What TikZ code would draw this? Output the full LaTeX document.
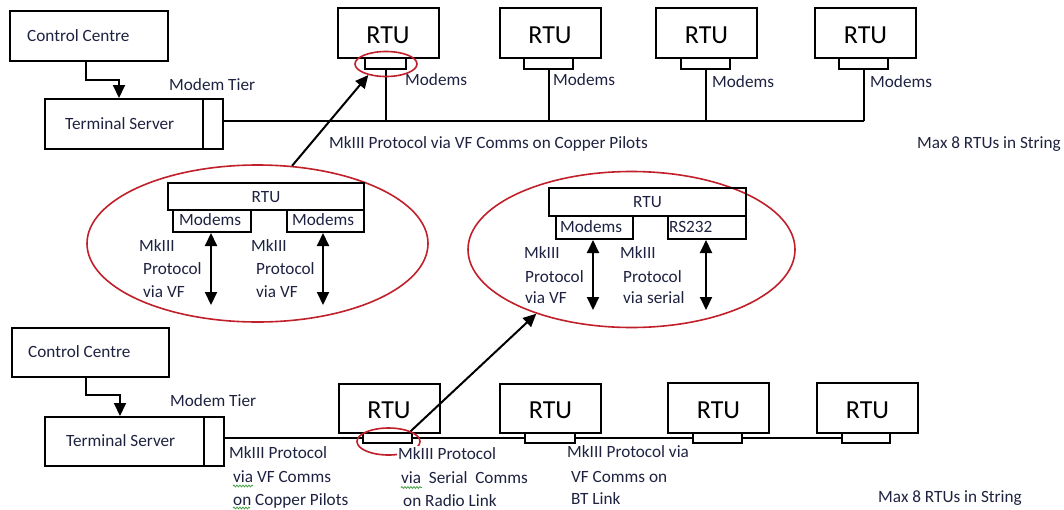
\documentclass[tikz,border=0pt]{standalone}
\usepackage{fontspec}
\setmainfont{Carlito}
\usetikzlibrary{arrows.meta,shapes.geometric,decorations.pathmorphing}
\definecolor{ink}{RGB}{30,34,64}
\definecolor{ringred}{RGB}{192,32,42}
\definecolor{spell}{RGB}{70,160,70}
\begin{document}
\begin{tikzpicture}[x=1pt,y=-1pt,
  wire/.style={draw=black,line width=2pt},
  box/.style={wire,rectangle,inner sep=0pt},
  lbl/.style={inner sep=0pt,anchor=base west,text=ink,font=\fontsize{17.2}{19}\selectfont},
  rtu/.style={box,minimum width=101pt,minimum height=49.5pt,text=black,
    font=\fontsize{26}{28}\selectfont,text height=21pt,text depth=0pt},
  minirtu/.style={box,text=ink,font=\fontsize{17.2}{19}\selectfont,text height=11.5pt,text depth=0pt},
  redell/.style={ellipse,draw=ringred,line width=1.6pt,inner sep=0pt},
  arr/.style={wire,-{Triangle[width=12pt,length=13pt]}},
  darr/.style={wire,{Triangle[width=12pt,length=13pt]}-{Triangle[width=12pt,length=13pt]}},
  squig/.style={draw=spell,line width=0.8pt,decorate,decoration={snake,amplitude=0.9pt,segment length=3pt}}
]
\path[use as bounding box] (0,0) rectangle (1064,509);

% ---------------- upper string: copper pilots ----------------
\node[box,minimum width=158pt,minimum height=50pt] (ccA) at (89,36) {};
\node[lbl] (ccAt) at (27,41) {Control Centre};
\node[box,minimum width=158pt,minimum height=50pt] (tsA) at (124,124) {};
\node[box,minimum width=20pt,minimum height=50pt] (tsAm) at (213,124) {};
\node[lbl] (tsAt) at (65,129) {Terminal Server};
\node[lbl] (tierA) at (169,90) {Modem Tier};
\coordinate (kA) at (119,80);
\draw[arr] ([xshift=-3pt]ccA.south) |- (kA) -- (kA |- tsA.north);

\node[rtu] (rA1) at (388,33) {RTU};
\node[rtu] (rA2) at (550,33) {RTU};
\node[rtu] (rA3) at (706.5,33) {RTU};
\node[rtu] (rA4) at (865.5,33) {RTU};
\node[box,minimum width=41pt,minimum height=11pt] (mA1) at (385.5,63.5) {};
\node[box,minimum width=49pt,minimum height=11pt] (mA2) at (548.5,63.5) {};
\node[box,minimum width=49pt,minimum height=11pt] (mA3) at (705.5,63.5) {};
\node[box,minimum width=49pt,minimum height=11pt] (mA4) at (863.5,63.5) {};
\node[lbl] (mlA1) at (405,85) {Modems};
\node[lbl] (mlA2) at (553,85) {Modems};
\node[lbl] (mlA3) at (712,87) {Modems};
\node[lbl] (mlA4) at (870,87) {Modems};

\coordinate (busA) at (0,121);
\draw[wire] (tsAm.east |- busA) -- (mA4.south |- busA);
\foreach \m in {mA1,mA2,mA3,mA4}
  \draw[wire] (\m.south) -- (\m.south |- busA);

\node[lbl] (protoA) at (329,148) {MkIII Protocol via VF Comms on Copper Pilots};
\node[lbl] (maxA) at (917,148) {Max 8 RTUs in String};

\node[redell,minimum width=62pt,minimum height=25pt] (redA) at (386,64) {};

% ---------------- detail: RTU with two modem ports ----------------
\node[redell,minimum width=341pt,minimum height=157pt] (ellA) at (257.5,243.5) {};
\node[minirtu,minimum width=196pt,minimum height=27pt] (rtuA) at (266,196.5) {RTU};
\node[box,minimum width=78pt,minimum height=22pt] (mdA1) at (212,221) {};
\node[box,minimum width=77pt,minimum height=22pt] (mdA2) at (325.5,221) {};
\node[lbl] (mdA1t) at (179,225) {Modems};
\node[lbl] (mdA2t) at (292,225) {Modems};
\coordinate (eA1) at (211,305);
\coordinate (eA2) at (323,305);
\draw[darr] (mdA1.south -| eA1) -- (eA1);
\draw[darr] (mdA2.south -| eA2) -- (eA2);
\node[lbl] (pA1a) at (139,251) {MkIII};
\node[lbl] (pA1b) at (143,274) {Protocol};
\node[lbl] (pA1c) at (143,297) {via VF};
\node[lbl] (pA2a) at (251,251) {MkIII};
\node[lbl] (pA2b) at (256,274) {Protocol};
\node[lbl] (pA2c) at (256,297) {via VF};

\draw[arr] (ellA.66) -- (redA.212);

% ---------------- detail: RTU with modem and serial port ----------------
\node[redell,minimum width=327pt,minimum height=156pt] (ellB) at (631.5,249.5) {};
\node[minirtu,minimum width=197pt,minimum height=28pt] (rtuB) at (647.5,202) {RTU};
\node[box,minimum width=77pt,minimum height=23pt] (mdB1) at (594.5,227.5) {};
\node[box,minimum width=78pt,minimum height=23pt] (rsB) at (707,227.5) {};
\node[lbl] (mdB1t) at (560,232) {Modems};
\node[lbl] (rsBt) at (669,232) {RS232};
\coordinate (eB1) at (593,310);
\coordinate (eB2) at (706,310);
\draw[darr] (mdB1.south -| eB1) -- (eB1);
\draw[darr] (rsB.south -| eB2) -- (eB2);
\node[lbl] (pB1a) at (524,258) {MkIII};
\node[lbl] (pB1b) at (525,282) {Protocol};
\node[lbl] (pB1c) at (525,303) {via VF};
\node[lbl] (pB2a) at (620,258) {MkIII};
\node[lbl] (pB2b) at (623,282) {Protocol};
\node[lbl] (pB2c) at (623,303) {via serial};

% ---------------- lower string: mixed links ----------------
\node[box,minimum width=157pt,minimum height=49pt] (ccB) at (90.5,352.5) {};
\node[lbl] (ccBt) at (28,357) {Control Centre};
\node[box,minimum width=159pt,minimum height=49pt] (tsB) at (124.5,441.5) {};
\node[box,minimum width=20pt,minimum height=49pt] (tsBm) at (214,441.5) {};
\node[lbl] (tsBt) at (66,446) {Terminal Server};
\node[lbl] (tierB) at (170,406) {Modem Tier};
\coordinate (kB) at (120,395);
\draw[arr] ([xshift=-4.5pt]ccB.south) |- (kB) -- (kB |- tsB.north);

\node[rtu] (rB1) at (389,408.25) {RTU};
\node[rtu] (rB2) at (550.5,408.25) {RTU};
\node[rtu] (rB3) at (718.5,408) {RTU};
\node[rtu] (rB4) at (867.5,408) {RTU};
\node[box,minimum width=49pt,minimum height=10pt] (mB1) at (387.5,438) {};
\node[box,minimum width=50pt,minimum height=10pt] (mB2) at (550,438) {};
\node[box,minimum width=49pt,minimum height=10pt] (mB3) at (717.5,438) {};
\node[box,minimum width=48pt,minimum height=10pt] (mB4) at (866,438) {};

\draw[wire] (tsBm.east |- mB1.west) -- (mB1.west);
\draw[wire] (mB1.east) -- (mB2.west);
\draw[wire] (mB2.east) -- (mB3.west);
\draw[wire] (mB3.east) -- (mB4.west);

\node[redell,minimum width=63pt,minimum height=27pt] (redB) at (388.5,441.5) {};
\draw[arr] (redB.25) -- (ellB.214);

\node[lbl] (lkB1a) at (229,458) {MkIII Protocol};
\node[lbl] (lkB1b) at (233,482) {via VF Comms};
\node[lbl] (lkB1c) at (233,505) {on Copper Pilots};
\node[lbl,fill=white,inner sep=1pt] (lkB2a) at (397,459) {MkIII Protocol};
\node[lbl] (lkB2b) at (401,483) {via\ \ Serial\ \ Comms};
\node[lbl] (lkB2c) at (403,506) {on Radio Link};
\node[lbl] (lkB3a) at (567,457) {MkIII Protocol via};
\node[lbl] (lkB3b) at (571,482) {VF Comms on};
\node[lbl] (lkB3c) at (571,504) {BT Link};
\node[lbl] (maxB) at (878,502) {Max 8 RTUs in String};

% proofing marks under the flagged words
\draw[squig] (233,486) -- (253,486);
\draw[squig] (233,508) -- (250,508);
\draw[squig] (401,487.5) -- (422,487.5);
\end{tikzpicture}
\end{document}
